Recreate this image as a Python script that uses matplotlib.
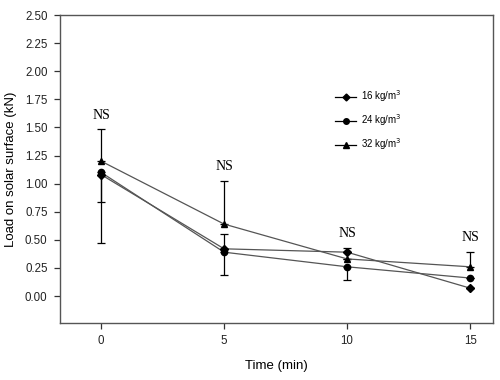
import matplotlib
matplotlib.use("Agg")
import matplotlib.pyplot as plt

time = [0, 5, 10, 15]
labels = ["16 kg/m$^3$", "24 kg/m$^3$", "32 kg/m$^3$"]
load_16 = [1.08, 0.42, 0.39, 0.07]
load_24 = [1.10, 0.39, 0.26, 0.16]
load_32 = [1.20, 0.64, 0.33, 0.26]
err_16_lo = [0.61, 0.0, 0.0, 0.0]
err_16_hi = [0.0, 0.13, 0.04, 0.0]
err_24_lo = [0.26, 0.20, 0.12, 0.0]
err_24_hi = [0.0, 0.0, 0.0, 0.0]
err_32_lo = [0.0, 0.0, 0.0, 0.0]
err_32_hi = [0.29, 0.38, 0.0, 0.13]
ns_text = ["NS", "NS", "NS", "NS"]
ns_y = [1.61, 1.15, 0.56, 0.52]

plt.rcParams['font.family'] = ['Liberation Sans', 'DejaVu Sans']

fig = plt.figure(figsize=(5, 3.8), dpi=100)
ax = fig.add_axes([0.12, 0.15, 0.866, 0.8105])

series = [
    (load_16, err_16_lo, err_16_hi, 'D', 4.0),
    (load_24, err_24_lo, err_24_hi, 'o', 4.5),
    (load_32, err_32_lo, err_32_hi, '^', 4.5),
]
for (vals, lo, hi, mk, ms), lab in zip(series, labels):
    ax.errorbar(time, vals, yerr=[lo, hi], fmt='none', ecolor='black',
                elinewidth=0.9, capsize=3, capthick=0.9, zorder=2)
    ax.plot(time, vals, color='#555555', linewidth=0.9, zorder=3)
    ax.plot(time, vals, linestyle='none', marker=mk, markersize=ms,
            color='black', zorder=4)

# legend handles
handles = []
for (vals, lo, hi, mk, ms), lab in zip(series, labels):
    h, = ax.plot([], [], color='black', linewidth=0.9, marker=mk,
                 markersize=ms - 0.5, label=lab)
    handles.append(h)
ax.legend(handles=handles, frameon=False, fontsize=7,
          bbox_to_anchor=(0.615, 0.79), loc='upper left',
          handlelength=2.2, labelspacing=0.85, handletextpad=0.5)

for x, y, t in zip(time, ns_y, ns_text):
    ax.text(x, y, t, ha='center', va='center', fontsize=10,
            family=['Liberation Serif', 'DejaVu Serif'])

yt = [0, 0.25, 0.5, 0.75, 1.0, 1.25, 1.5, 1.75, 2.0, 2.25, 2.5]
ax.set_xlim(-1.67, 15.93)
ax.set_ylim(-0.24, 2.5)
ax.set_xticks(time)
ax.set_yticks(yt)
ax.set_yticklabels([f"{v:.2f}" for v in yt])
ax.tick_params(axis='both', direction='out', labelsize=8.3, length=4,
               width=0.9, colors='#333333', labelcolor='#222222', pad=5)
ax.tick_params(top=False, right=False)
for s in ax.spines.values():
    s.set_color('#555555')
    s.set_linewidth(1.0)
ax.set_xlabel("Time (min)", fontsize=9.5, labelpad=9)
ax.set_ylabel("Load on solar surface (kN)", fontsize=9.5, labelpad=6)

fig.savefig("out.png", dpi=100)
